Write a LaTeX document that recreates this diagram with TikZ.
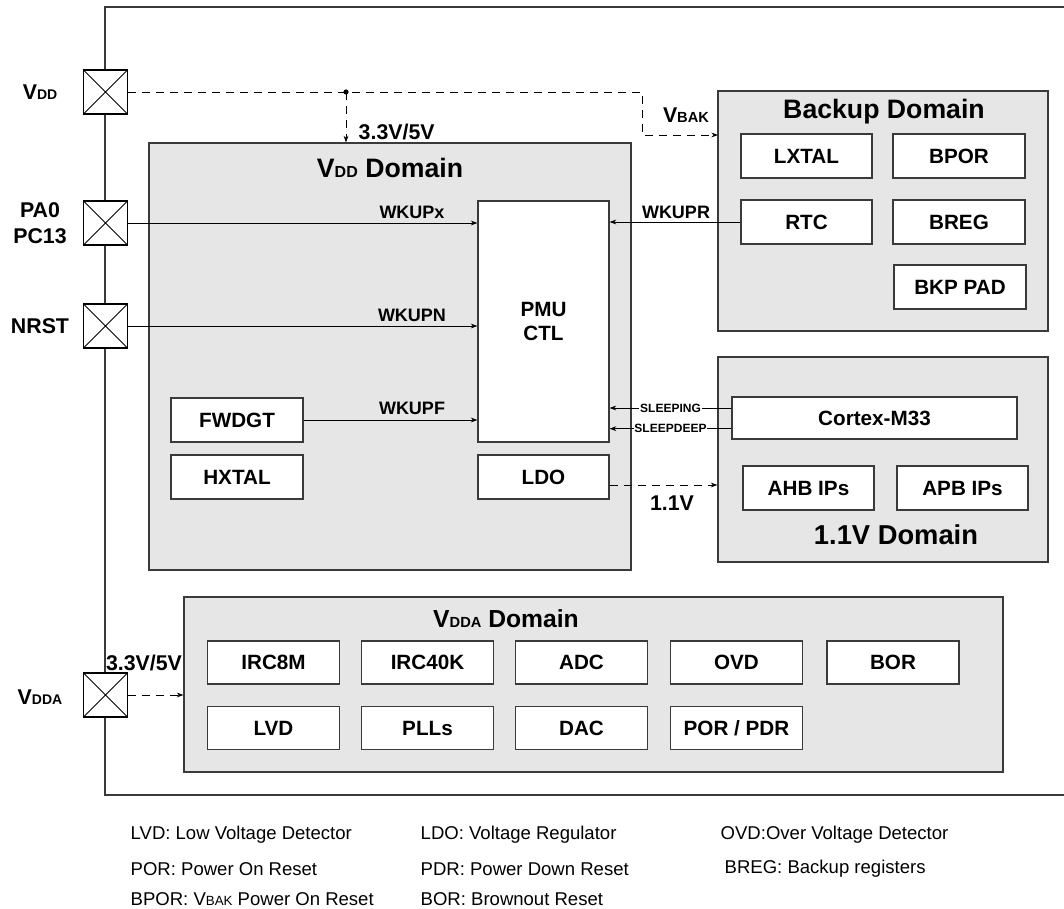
\documentclass[tikz,border=0pt]{standalone}
\usepackage{fontspec}
\setmainfont{Liberation Sans}
\usetikzlibrary{arrows.meta}
\definecolor{domfill}{HTML}{E6E6E6}
\definecolor{edge}{HTML}{3A3A3A}

\begin{document}
\begin{tikzpicture}[x=0.75pt,y=-0.75pt,
  >={Stealth[length=5pt,width=3.6pt]},
  dom/.style={draw=edge,line width=0.9pt,fill=domfill,inner sep=0pt},
  blk/.style={draw=edge,line width=0.9pt,fill=white,inner sep=0pt,
    minimum width=99pt,minimum height=33pt,font=\fontsize{15.5}{18}\selectfont\bfseries},
  pad/.style={draw,line width=0.9pt,fill=white,minimum size=33pt,inner sep=0pt,
    path picture={\draw[line width=0.6pt] (path picture bounding box.south west) -- (path picture bounding box.north east)
      (path picture bounding box.north west) -- (path picture bounding box.south east);}},
  lbl/.style={font=\fontsize{16}{19.5}\selectfont\bfseries,align=center},
  sig/.style={font=\fontsize{13.5}{16}\selectfont\bfseries},
  tiny/.style={font=\fontsize{9}{10}\selectfont\bfseries,fill=white,inner sep=0.6pt},
  title/.style={font=\fontsize{20}{24}\selectfont\bfseries},
  note/.style={anchor=west,font=\fontsize{13.9}{16}\selectfont},
  wire/.style={line width=0.6pt,->},
  pwr/.style={line width=0.6pt,dash pattern=on 6pt off 4.5pt,->}]
  \useasboundingbox (0,0) rectangle (1064,909);

  % outer frame
  \draw[line width=1pt,edge] (1064,7) -- (105,7) -- (105,795) -- (1064,795);

  % domains
  \node[dom,minimum width=361.5pt,minimum height=320.25pt] (vdd) at (390,356.5) {};
  \node[dom,minimum width=247.5pt,minimum height=180pt] (bkp) at (883,211) {};
  \node[dom,minimum width=247.5pt,minimum height=153.75pt] (core) at (883,459.5) {};
  \node[dom,minimum width=614.25pt,minimum height=131.25pt] (vdda) at (593.5,684.5) {};

  \node[title] (tvdd) at (390,168) {V{\fontsize{12}{14}\selectfont DD} Domain};
  \node[title] (tbkp) at (884,112) {Backup Domain};
  \node[title,font=\fontsize{20.5}{24}\selectfont\bfseries] (tcore) at (896,535) {1.1V Domain};
  \node[title,font=\fontsize{18.5}{22}\selectfont\bfseries] (tvdda) at (506,619) {V{\fontsize{11}{13}\selectfont DDA} Domain};

  % blocks in the VDD domain
  \node[blk,minimum width=98.25pt,minimum height=180.75pt,align=center] (pmu) at (543.5,321.5) {PMU\\CTL};
  \node[blk] (fwdgt) at (237,420) {FWDGT};
  \node[blk] (hxtal) at (237,477) {HXTAL};
  \node[blk,minimum width=98.25pt] (ldo) at (543.5,477) {LDO};

  % backup domain
  \node[blk,minimum width=98.25pt] (lxtal) at (806.5,156) {LXTAL};
  \node[blk] (bpor) at (959,156) {BPOR};
  \node[blk,minimum width=98.25pt] (rtc) at (806.5,222) {RTC};
  \node[blk] (breg) at (959,222) {BREG};
  \node[blk] (bkppad) at (960,287) {BKP PAD};

  % 1.1V domain
  \node[blk,minimum width=213.75pt,minimum height=31.5pt] (cpu) at (874.5,418) {Cortex-M33};
  \node[blk,minimum width=98.25pt] (ahb) at (808.5,488) {AHB IPs};
  \node[blk,minimum width=98.25pt] (apb) at (962.5,488) {APB IPs};

  % VDDA domain
  \foreach \n/\t/\x/\y in {irc/IRC8M/273.5/662.5, irck/IRC40K/427.5/662.5, adc/ADC/581.5/662.5,
      ovd/OVD/736.5/662.5, bor/BOR/893/662.5, lvd/LVD/273.5/728, pll/PLLs/427.5/728,
      dac/DAC/581.5/728, por/{POR / PDR}/736.5/728}
    \node[blk,minimum width=99pt,minimum height=32.25pt] (\n) at (\x,\y) {\t};

  % pads
  \node[pad] (pvdd) at (105.5,92) {};
  \node[pad] (pwk) at (105.5,223) {};
  \node[pad] (prst) at (105.5,326) {};
  \node[pad] (pvdda) at (105.5,695) {};
  \node[lbl] (lvdd) at (40,92) {V{\fontsize{10.5}{12}\selectfont DD}};
  \node[lbl] (lwk) at (40,223) {PA0\\PC13};
  \node[lbl] (lrst) at (40,326) {NRST};
  \node[lbl] (lvdda) at (40,697) {V{\fontsize{10.5}{12}\selectfont DDA}};

  % supplies
  \coordinate (jn) at (346,92);
  \coordinate (bend) at (642,92);
  \coordinate (vbak) at (718,135);
  \draw[pwr] (pvdd.east) -- (bend) |- (vbak);
  \fill (jn) circle (2.6);
  \draw[pwr] (jn) -- (jn |- vdd.north);
  \node[lbl,anchor=west] (v33) at (354,132) {3.3V/5V};
  \node[lbl] (lbak) at (686,115) {V{\fontsize{11}{13}\selectfont BAK}};
  \draw[pwr] ([yshift=-6pt]ldo.east) -- ([yshift=-6pt]ldo.east -| core.west);
  \node[lbl] (v11) at (672,503) {1.1V};
  \draw[pwr] (pvdda.east) -- (pvdda.east -| vdda.west);
  \node[lbl] (v33a) at (144,663) {3.3V/5V};

  % wakeup signals
  \draw[wire] (pwk.east) -- (pwk.east -| pmu.west);
  \node[sig] (wkx) at (412,212) {WKUPx};
  \draw[wire] (prst.east) -- (prst.east -| pmu.west);
  \node[sig] (wkn) at (412,315) {WKUPN};
  \draw[wire] (fwdgt.east) -- (fwdgt.east -| pmu.west);
  \node[sig] (wkf) at (412,408) {WKUPF};
  \draw[wire] (rtc.west) -- (rtc.west -| pmu.east);
  \node[sig] (wkr) at (676,212) {WKUPR};
  \draw[wire] ([yshift=7.5pt]cpu.west) -- ([yshift=7.5pt]cpu.west -| pmu.east)
    node[tiny,pos=0.5] (slp) {SLEEPING};
  \draw[wire] ([yshift=-8pt]cpu.west) -- ([yshift=-8pt]cpu.west -| pmu.east)
    node[tiny,pos=0.5] (sdp) {SLEEPDEEP};

  % legend
  \node[note] (n1) at (126,835) {LVD: Low Voltage Detector};
  \node[note] (n2) at (126,869) {POR: Power On Reset};
  \node[note] (n3) at (126,899) {BPOR: V{\fontsize{10}{12}\selectfont BAK} Power On Reset};
  \node[note] (n4) at (416,835) {LDO: Voltage Regulator};
  \node[note] (n5) at (416,869) {PDR: Power Down Reset};
  \node[note] (n6) at (416,899) {BOR: Brownout Reset};
  \node[note] (n7) at (716,835) {OVD:Over Voltage Detector};
  \node[note] (n8) at (720,869) {BREG: Backup registers};
\end{tikzpicture}
\end{document}
